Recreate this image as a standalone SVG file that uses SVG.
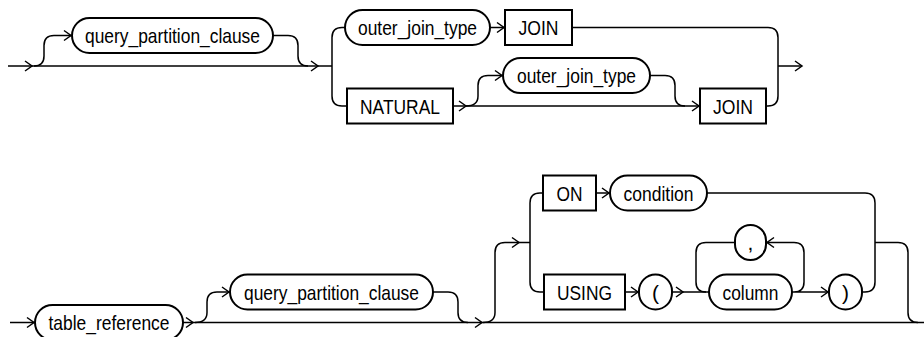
<svg xmlns="http://www.w3.org/2000/svg" xmlns:xlink="http://www.w3.org/1999/xlink" width="924" height="337" viewBox="0 0 924 337">
<style>
.s{fill:#fff;stroke:#000;stroke-width:2}
.c{fill:none;stroke:#000;stroke-width:1.5}
.t{font-family:"Liberation Sans Narrow","Liberation Sans",Arial,sans-serif;font-size:21px;text-anchor:middle;fill:#000}
</style>
<defs>
<path id="ar" d="M-7,-5 L0,0 L-7,5" fill="none" stroke="#000" stroke-width="1.5"/>
</defs>
<rect width="924" height="337" fill="#fff"/>
<g id="connectors">
<path class="c" d="M8,66 L332,66"/>
<path class="c" d="M34,66 Q44,66 44,56 L44,45.5 Q44,35.5 54,35.5 L72,35.5"/>
<path class="c" d="M273,35.5 L288,35.5 Q298,35.5 298,45.5 L298,56 Q298,66 308,66"/>
<path class="c" d="M345,27.5 L342,27.5 Q332,27.5 332,37.5 L332,96 Q332,106 342,106 L347,106"/>
<path class="c" d="M490,27.5 L505,27.5"/>
<path class="c" d="M572,27.5 L768,27.5 Q778,27.5 778,37.5 L778,96 Q778,106 768,106 L766,106"/>
<path class="c" d="M778,66 L802,66"/>
<path class="c" d="M453,106 L700,106"/>
<path class="c" d="M466,106 Q478,106 478,96 L478,85.5 Q478,75.5 488,75.5 L503,75.5"/>
<path class="c" d="M650,75.5 L665,75.5 Q675,75.5 675,85.5 L675,96 Q675,106 685,106"/>
<path class="c" d="M10,322.5 L35,322.5 M183,322.5 L924,322.5"/>
<path class="c" d="M195,322.5 Q207,322.5 207,312.5 L207,302 Q207,292 217,292 L230,292"/>
<path class="c" d="M433,292 L448,292 Q458,292 458,302 L458,312.5 Q458,322.5 468,322.5"/>
<path class="c" d="M483,322.5 Q495,322.5 495,312.5 L495,252.5 Q495,242.5 505,242.5 L530,242.5"/>
<path class="c" d="M543,193 L540,193 Q530,193 530,203 L530,282 Q530,292 540,292 L544,292"/>
<path class="c" d="M596,193 L610,193"/>
<path class="c" d="M707,193 L865,193 Q875,193 875,203 L875,282 Q875,292 865,292 L862,292"/>
<path class="c" d="M875,242.5 L898,242.5 Q908,242.5 908,252.5 L908,312.5 Q908,322.5 918,322.5"/>
<path class="c" d="M625,292 L639,292"/>
<path class="c" d="M672,292 L709,292"/>
<path class="c" d="M735,242.5 L706,242.5 Q696,242.5 696,252.5 L696,282 Q696,292 706,292"/>
<path class="c" d="M792,292 L829,292 M766,242.5 L794,242.5 Q804,242.5 804,252.5 L804,282 Q804,292 794,292"/>
<use xlink:href="#ar" x="32" y="66"/>
<use xlink:href="#ar" x="71" y="35.5"/>
<use xlink:href="#ar" x="318" y="66"/>
<use xlink:href="#ar" x="504" y="27.5"/>
<use xlink:href="#ar" x="466" y="106"/>
<use xlink:href="#ar" x="502" y="75.5"/>
<use xlink:href="#ar" x="699" y="106"/>
<use xlink:href="#ar" x="802" y="66"/>
<use xlink:href="#ar" x="34" y="322.5"/>
<use xlink:href="#ar" x="193" y="322.5"/>
<use xlink:href="#ar" x="229" y="292"/>
<use xlink:href="#ar" x="482" y="322.5"/>
<use xlink:href="#ar" x="519" y="242.5"/>
<use xlink:href="#ar" x="609" y="193"/>
<use xlink:href="#ar" x="638" y="292"/>
<use xlink:href="#ar" x="683" y="292"/>
<use xlink:href="#ar" x="828" y="292"/>
<use xlink:href="#ar" transform="translate(767,242.5) rotate(180)"/>
</g>
<g id="qpc1"><rect class="s" x="72" y="18" width="201" height="35" rx="17.5"/><text class="t" x="172.5" y="43" textLength="175" lengthAdjust="spacingAndGlyphs">query_partition_clause</text></g>
<g id="ojt1"><rect class="s" x="345" y="10" width="145" height="35" rx="17.5"/><text class="t" x="417.5" y="35" textLength="119" lengthAdjust="spacingAndGlyphs">outer_join_type</text></g>
<g id="join1"><rect class="s" x="505" y="10" width="67" height="35"/><text class="t" x="538.5" y="35" textLength="40" lengthAdjust="spacingAndGlyphs">JOIN</text></g>
<g id="natural"><rect class="s" x="347" y="88.5" width="106" height="35"/><text class="t" x="400" y="113.5" textLength="80" lengthAdjust="spacingAndGlyphs">NATURAL</text></g>
<g id="ojt2"><rect class="s" x="503" y="58" width="147" height="35" rx="17.5"/><text class="t" x="576.5" y="83" textLength="119" lengthAdjust="spacingAndGlyphs">outer_join_type</text></g>
<g id="join2"><rect class="s" x="700" y="88.5" width="66" height="35"/><text class="t" x="733" y="113.5" textLength="40" lengthAdjust="spacingAndGlyphs">JOIN</text></g>
<g id="table_reference"><rect class="s" x="35" y="305" width="148" height="35" rx="17.5"/><text class="t" x="109" y="330" textLength="121" lengthAdjust="spacingAndGlyphs">table_reference</text></g>
<g id="qpc2"><rect class="s" x="230" y="274.5" width="203" height="35" rx="17.5"/><text class="t" x="331.5" y="299.5" textLength="175" lengthAdjust="spacingAndGlyphs">query_partition_clause</text></g>
<g id="on"><rect class="s" x="543" y="175.5" width="53" height="35"/><text class="t" x="569.5" y="200.5" textLength="26" lengthAdjust="spacingAndGlyphs">ON</text></g>
<g id="condition"><rect class="s" x="610" y="175.5" width="97" height="35" rx="17.5"/><text class="t" x="658.5" y="200.5" textLength="70" lengthAdjust="spacingAndGlyphs">condition</text></g>
<g id="using"><rect class="s" x="544" y="274.5" width="81" height="35"/><text class="t" x="584.5" y="299.5" textLength="55" lengthAdjust="spacingAndGlyphs">USING</text></g>
<g id="lparen"><rect class="s" x="639" y="274.5" width="33" height="35" rx="16.5"/><text class="t" x="655.5" y="299.5">(</text></g>
<g id="column"><rect class="s" x="709" y="274.5" width="83" height="35" rx="17.5"/><text class="t" x="750.5" y="299.5" textLength="56" lengthAdjust="spacingAndGlyphs">column</text></g>
<g id="rparen"><rect class="s" x="829" y="274.5" width="33" height="35" rx="16.5"/><text class="t" x="845.5" y="299.5">)</text></g>
<g id="comma"><rect class="s" x="735" y="225" width="31" height="35" rx="15.5"/><text class="t" x="750.5" y="250">,</text></g>
</svg>
